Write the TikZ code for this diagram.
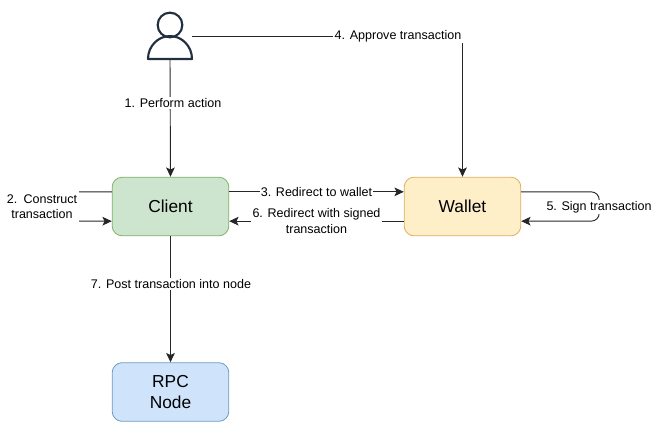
\documentclass[tikz,border=0pt]{standalone}
\usepackage{fontspec}
\setmainfont{Liberation Sans}
\usetikzlibrary{arrows.meta}
\definecolor{clientfill}{HTML}{CDE5CF}
\definecolor{clientline}{HTML}{82B366}
\definecolor{walletfill}{HTML}{FFEFC9}
\definecolor{walletline}{HTML}{DFAE5C}
\definecolor{rpcfill}{HTML}{CFE4FB}
\definecolor{rpcline}{HTML}{6C9EBF}
\definecolor{userline}{HTML}{232F3E}
\tikzset{
  actor/.style={draw, line width=0.6pt, rounded corners=7.5pt, minimum width=87.5pt, minimum height=44pt,
    align=center, font=\fontsize{13}{16}\selectfont},
  flow/.style={draw=black!85, line width=0.7pt, -{Stealth[length=7pt,width=6.5pt,inset=1.6pt]}},
  tag/.style={fill=white, inner sep=1pt, align=center, font=\fontsize{9.4}{11.5}\selectfont}
}
\begin{document}
\begin{tikzpicture}[x=0.75pt, y=-0.75pt]
      \useasboundingbox (0,0) rectangle (669,440);
      \node[actor, fill=clientfill, draw=clientline] (client) at (170.5,206.5) {Client};
      \node[actor, fill=walletfill, draw=walletline] (wallet) at (462.5,206.5) {Wallet};
      \node[actor, fill=rpcfill, draw=rpcline] (rpc) at (170.5,392) {RPC\\Node};
      % user icon
      \node[circle, draw=userline, line width=1.6pt, minimum size=18.5pt, inner sep=0pt] (head) at (170,25) {};
      \coordinate (foot) at (170,60);
      \coordinate (shoulder) at (192,36);
      \draw[userline, line width=1.6pt, line join=round] (148,59) arc[start angle=180, end angle=0, x radius=16.5pt, y radius=17.2pt] -- cycle;
      % connectors
      \draw[flow] (foot) -- (client.north);
      \node[tag] (perform) at (173,103) {1. Perform action};
      \draw[flow] (shoulder) -| (wallet.north);
      \node[tag] (approve) at (398,36) {4. Approve transaction};
      \draw[flow, rounded corners=6pt] ([yshift=11pt]client.west) -- ++(-80,0) |- ([yshift=-11pt]client.west);
      \node[tag, text width=53.5pt, minimum height=30pt] (construct) at (42,206.5) {2. Construct\\transaction};
      \draw[flow] ([yshift=11pt]client.east) -- node[tag] (redirect) {3. Redirect to wallet} ([yshift=11pt]wallet.west);
      \draw[flow] ([yshift=-11pt]wallet.west) -- node[tag] (signed) {6. Redirect with signed\\transaction} ([yshift=-11pt]client.east);
      \draw[flow, rounded corners=6pt] ([yshift=11pt]wallet.east) -- ++(78,0) |- ([yshift=-11pt]wallet.east);
      \node[tag] (sign) at (599,207) {5. Sign transaction};
      \draw[flow] (client.south) -- (rpc.north);
      \node[tag] (post) at (171,284) {7. Post transaction into node};
    \end{tikzpicture}
\end{document}
